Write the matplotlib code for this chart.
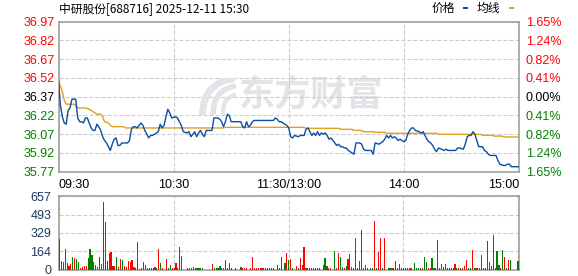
import matplotlib
matplotlib.use('Agg')
import matplotlib.pyplot as plt
from matplotlib.patches import Rectangle, PathPatch
from matplotlib.path import Path

plt.rcParams['font.family'] = ['Liberation Sans', 'Noto Sans CJK SC', 'DejaVu Sans']

# ---- data ----
title = '中研股份[688716] 2025-12-11 15:30'
prev_close = 36.37

# minute index (0 = 09:30, 120 = 11:30/13:00, 240 = 15:00) and price
price_min = [0, 1, 2, 3, 4, 5, 6, 7, 9, 10, 11, 12, 13, 14, 15, 16, 17, 18, 19, 20,
             21, 22, 23, 24, 25, 26, 27, 28, 29, 30, 31, 32, 33, 36, 37, 38, 39, 40, 41, 42,
             43, 44, 45, 46, 47, 48, 49, 50, 52, 53, 54, 55, 56, 57, 58, 59, 61, 62, 63, 64,
             65, 67, 68, 69, 70, 71, 72, 73, 74, 75, 76, 77, 80, 81, 82, 83, 84, 85, 86, 87,
             88, 89, 90, 95, 96, 97, 98, 99, 100, 101, 102, 111, 112, 113, 114, 115, 116, 117, 119, 120,
             121, 122, 123, 125, 126, 127, 128, 129, 130, 131, 132, 133, 134, 135, 136, 137, 138, 139, 140, 141,
             142, 143, 144, 145, 146, 147, 148, 149, 150, 151, 152, 153, 154, 155, 157, 158, 159, 160, 163, 164,
             165, 167, 168, 169, 170, 171, 172, 173, 174, 175, 176, 177, 178, 179, 180, 181, 182, 183, 184, 185,
             186, 188, 189, 190, 191, 192, 193, 194, 195, 196, 197, 198, 201, 202, 203, 204, 205, 207, 208, 209,
             211, 212, 213, 214, 215, 216, 217, 218, 219, 221, 222, 223, 224, 225, 228, 229, 230, 232, 233, 234,
             235, 236, 240]
price_val = [36.50, 36.30, 36.21, 36.16, 36.15, 36.26, 36.28, 36.35, 36.35, 36.20, 36.17, 36.17, 36.16, 36.20, 36.20, 36.16, 36.12, 36.10, 36.10, 36.15,
             36.13, 36.10, 36.05, 36.02, 36.00, 35.97, 35.94, 35.99, 36.03, 36.04, 35.98, 35.98, 36.00, 36.00, 36.02, 36.11, 36.13, 36.13, 36.12, 36.14,
             36.16, 36.14, 36.10, 36.07, 36.04, 36.06, 36.06, 36.07, 36.09, 36.15, 36.12, 36.14, 36.21, 36.27, 36.24, 36.20, 36.21, 36.20, 36.17, 36.14,
             36.09, 36.08, 36.09, 36.05, 36.07, 36.09, 36.05, 36.08, 36.10, 36.07, 36.05, 36.10, 36.10, 36.20, 36.20, 36.20, 36.19, 36.17, 36.13, 36.17,
             36.23, 36.22, 36.17, 36.17, 36.13, 36.12, 36.17, 36.13, 36.14, 36.17, 36.18, 36.18, 36.18, 36.20, 36.19, 36.17, 36.17, 36.16, 36.14, 36.12,
             36.05, 36.04, 36.06, 36.05, 36.06, 36.06, 36.06, 36.11, 36.12, 36.09, 36.06, 36.08, 36.06, 36.09, 36.06, 36.08, 36.07, 36.08, 36.06, 36.03,
             36.04, 36.02, 36.00, 35.98, 35.99, 35.97, 35.97, 35.96, 35.96, 35.94, 35.93, 35.92, 35.91, 36.00, 36.00, 35.99, 35.95, 35.94, 35.94, 35.91,
             36.00, 35.99, 36.00, 36.01, 36.03, 36.06, 36.04, 36.06, 36.04, 36.05, 36.04, 36.02, 36.03, 36.02, 36.01, 36.02, 36.07, 36.10, 36.12, 36.12,
             36.10, 36.09, 36.08, 36.09, 36.06, 36.03, 36.01, 36.00, 35.98, 35.95, 35.93, 35.96, 35.94, 35.95, 35.94, 35.94, 35.94, 35.94, 35.96, 35.96,
             35.95, 35.99, 36.05, 36.06, 36.06, 36.09, 36.07, 36.02, 35.97, 35.97, 35.94, 35.93, 35.91, 35.90, 35.90, 35.86, 35.83, 35.82, 35.82, 35.83,
             35.83, 35.81, 35.81]

avg_min = [0, 2, 3, 4, 8, 9, 10, 14, 16, 17, 19, 20, 22, 23, 24, 26, 27, 28, 34, 35,
           86, 87, 128, 129, 146, 147, 153, 154, 158, 159, 164, 165, 170, 171, 197, 198, 220, 221, 226, 227,
           231, 232, 240]
avg_val = [36.50, 36.41, 36.34, 36.31, 36.31, 36.30, 36.28, 36.28, 36.27, 36.26, 36.24, 36.23, 36.23, 36.21, 36.17, 36.16, 36.14, 36.13, 36.13, 36.12,
           36.12, 36.125, 36.125, 36.117, 36.117, 36.109, 36.109, 36.101, 36.10, 36.09, 36.09, 36.085, 36.085, 36.077, 36.077, 36.069, 36.069, 36.061, 36.061, 36.055,
           36.055, 36.048, 36.048]

price_ticks = [35.77, 35.92, 36.07, 36.22, 36.37, 36.52, 36.67, 36.82, 36.97]
pct_labels = ['1.65%', '1.24%', '0.82%', '0.41%', '0.00%', '0.41%', '0.82%', '1.24%', '1.65%']
time_ticks = [0, 60, 120, 180, 240]
time_labels = ['09:30', '10:30', '11:30/13:00', '14:00', '15:00']
vol_ticks = [0, 164, 329, 493, 657]

# volume per minute (lots), 241 minutes
vol = [276, 77, 68, 187, 62, 27, 50, 113, 107, 95, 68, 12, 24, 33, 33, 104, 187, 131, 68, 42,
       18, 113, 50, 606, 425, 77, 149, 157, 27, 33, 113, 18, 95, 86, 27, 18, 77, 68, 86, 18,
       9, 247, 6, 9, 68, 42, 9, 9, 9, 9, 18, 9, 187, 59, 9, 0, 95, 9, 42, 9,
       9, 59, 9, 202, 122, 0, 0, 9, 9, 9, 18, 9, 9, 9, 9, 9, 0, 0, 0, 0,
       50, 9, 9, 9, 33, 9, 9, 86, 9, 59, 9, 0, 9, 0, 0, 18, 9, 9, 9, 0,
       9, 113, 9, 9, 9, 9, 9, 9, 9, 9, 9, 9, 9, 0, 42, 9, 113, 0, 59, 149,
       86, 95, 9, 0, 27, 9, 104, 42, 202, 9, 9, 9, 9, 9, 9, 9, 9, 0, 42, 104,
       33, 9, 9, 0, 166, 9, 149, 113, 18, 9, 33, 95, 140, 24, 9, 282, 15, 77, 356, 9,
       42, 9, 0, 9, 9, 434, 15, 157, 282, 9, 282, 0, 9, 9, 9, 9, 77, 9, 50, 9,
       9, 15, 9, 9, 15, 0, 59, 9, 9, 15, 9, 113, 68, 9, 9, 104, 9, 9, 264, 9,
       50, 18, 50, 9, 9, 15, 9, 50, 15, 9, 9, 9, 27, 86, 9, 9, 175, 9, 9, 9,
       15, 131, 15, 9, 255, 68, 33, 309, 9, 166, 42, 9, 175, 113, 15, 86, 86, 0, 0, 0,
       77]
# r = up minute, g = down minute
vol_dir = ('gggrrrrgrggrrrrgggrr' 'ggrggggrrrgrrgrrrrrr' 'ggggggrrrrrgrgrgrggr'
           'rrgggggrrrrggggggggg' 'rggggggrggrrrrrgrrrr' 'rrrrrrrrrrrrrrgrgggr'
           'grggrgrrrrggggrrrrrg' 'grrrgrrggrgrgrrrgrrg' 'grrggrgrrgrrggrrgrgg'
           'rrrrrrggggrggrrgggrr' 'rrgrggrrgrgrrrggrgrg' 'grggggrrgggrgrgrgggg'
           'g')

# ---- styles ----
UP = '#ff0000'
DOWN = '#008000'
PRICE_C = '#0b4ea2'
AVG_C = '#e0a020'
GRID_C = '#cccccc'
SPINE_C = '#999999'
VOL_LBL = '#1c3a63'
WM_C = '#e3e3e8'

W, H = 578, 276
fig = plt.figure(figsize=(W / 100, H / 100), dpi=100)


def box(l, t, r, b):
    # pixel box -> figure fraction rect
    return [l / W, 1 - b / H, (r - l) / W, (b - t) / H]


def style_frame(a):
    for s in a.spines.values():
        s.set_color(SPINE_C)
        s.set_linewidth(1.1)


# ---- price panel ----
ax = fig.add_axes(box(58.5, 21.7, 519, 171.7))
ax.plot(avg_min, avg_val, color=AVG_C, lw=1.0, zorder=3)
ax.plot(price_min, price_val, color=PRICE_C, lw=1.0, zorder=4)
ax.set_xlim(0, 240)
ax.set_ylim(price_ticks[0], price_ticks[-1])
ax.set_yticks(price_ticks)
ax.set_yticklabels(['%.2f' % t for t in price_ticks])
ax.set_xticks(time_ticks)
ax.set_xticklabels(time_labels)
ax.tick_params(length=0, labelsize=9)
ax.tick_params(axis='y', pad=3)
ax.tick_params(axis='x', pad=5)
xl = ax.get_xticklabels()
xl[0].set_ha('left')
xl[-1].set_ha('right')


def tick_color(v):
    if abs(v - prev_close) < 1e-6:
        return 'black'
    return UP if v > prev_close else DOWN


for lbl, t in zip(ax.get_yticklabels(), price_ticks):
    lbl.set_color(tick_color(t))
ax.grid(True, color=GRID_C, lw=0.8, ls=(0, (3.6, 1.8)))
style_frame(ax)

ax2 = ax.twinx()
ax2.set_ylim(price_ticks[0], price_ticks[-1])
ax2.set_yticks(price_ticks)
ax2.set_yticklabels(pct_labels)
ax2.tick_params(length=0, labelsize=9, pad=5)
for lbl, t in zip(ax2.get_yticklabels(), price_ticks):
    lbl.set_color(tick_color(t))
for s in ax2.spines.values():
    s.set_visible(False)

# watermark
ax.text(311 / W, 1 - 95 / H, '东方财富', transform=fig.transFigure, ha='center', va='center',
        fontsize=26, fontweight='bold', color=WM_C, family=['Noto Sans CJK SC'], zorder=1)
logo = fig.add_axes(box(198, 78, 236, 115))
logo.set_xlim(0, 1)
logo.set_ylim(0, 1)
logo.axis('off')
logo.patch.set_alpha(0)
for p0, p1, p2, w in [((0.12, 0.05), (0.15, 0.85), (0.9, 0.98), 5.0),
                      ((0.4, 0.05), (0.4, 0.65), (0.95, 0.78), 4.0),
                      ((0.66, 0.05), (0.64, 0.45), (0.98, 0.55), 3.0)]:
    pth = Path([p0, p1, p2], [Path.MOVETO, Path.CURVE3, Path.CURVE3])
    logo.add_patch(PathPatch(pth, fill=False, lw=w, edgecolor=WM_C, capstyle='round'))

# ---- volume panel ----
axv = fig.add_axes(box(58.5, 196.3, 519, 269.5))
bar_colors = [UP if d == 'r' else DOWN for d in vol_dir]
axv.bar(range(len(vol)), vol, width=0.6, color=bar_colors, linewidth=0, antialiased=False, zorder=3)
axv.set_xlim(-0.5, 240.5)
axv.set_ylim(vol_ticks[0], vol_ticks[-1])
axv.set_yticks(vol_ticks)
axv.set_xticks(time_ticks)
axv.tick_params(length=0, labelsize=9, labelbottom=False)
axv.tick_params(axis='y', pad=5, labelcolor=VOL_LBL)
axv.grid(True, color=GRID_C, lw=0.8, ls=(0, (3.6, 1.8)))
style_frame(axv)

# ---- header ----
fig.text(59.3 / W, 1 - 8.7 / H, title, ha='left', va='center', fontsize=8.5,
         family=['Noto Sans CJK SC'])
fig.text(431.5 / W, 1 - 8.7 / H, '价格', ha='left', va='center', fontsize=8.5,
         family=['Noto Sans CJK SC'])
fig.text(477 / W, 1 - 8.7 / H, '均线', ha='left', va='center', fontsize=8.5,
         family=['Noto Sans CJK SC'])
fig.add_artist(Rectangle((462.5 / W, 1 - 9.3 / H), 5.7 / W, 2.6 / H,
                         transform=fig.transFigure, color=PRICE_C, lw=0))
fig.add_artist(Rectangle((508.5 / W, 1 - 9.3 / H), 5.7 / W, 2.6 / H,
                         transform=fig.transFigure, color=AVG_C, lw=0))

fig.savefig('out.png', dpi=100)
